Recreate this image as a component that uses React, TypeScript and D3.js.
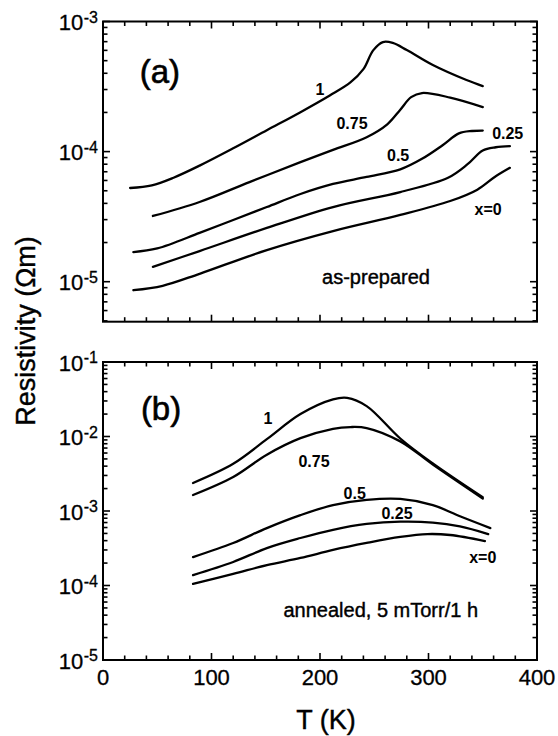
import React from 'react';
import * as d3 from 'd3';

const W = 558;
const H = 736;
const FONT = '"Liberation Sans", Arial, Helvetica, sans-serif';

// ---------- Panel (a): as-prepared ----------
const aT_1 = [25, 45, 65, 89, 120, 151, 182, 209, 228, 240, 249, 258, 267, 280, 304, 335, 350];
const aR_1 = [5.25e-5, 5.5e-5, 6.3e-5, 7.8e-5, 1.06e-4, 1.46e-4, 2.01e-4, 2.7e-4, 3.4e-4, 4.3e-4, 6.0e-4, 6.95e-4, 6.85e-4, 6.04e-4, 4.63e-4, 3.55e-4, 3.19e-4];
const aT_075 = [46, 89, 135, 182, 212, 243, 262, 274, 284, 294, 320, 350];
const aR_075 = [3.2e-5, 4.1e-5, 5.83e-5, 8.3e-5, 1.03e-4, 1.29e-4, 1.62e-4, 2.1e-4, 2.62e-4, 2.82e-4, 2.6e-4, 2.2e-4];
const aT_05 = [28, 50, 89, 120, 151, 182, 212, 243, 274, 294, 313, 328, 340, 350];
const aR_05 = [1.69e-5, 1.8e-5, 2.37e-5, 2.98e-5, 3.75e-5, 4.72e-5, 5.64e-5, 6.38e-5, 7.3e-5, 8.8e-5, 1.12e-4, 1.38e-4, 1.44e-4, 1.45e-4];
const aT_025 = [46, 89, 151, 212, 274, 318, 336, 350, 362, 375];
const aR_025 = [1.3e-5, 1.72e-5, 2.59e-5, 3.75e-5, 4.89e-5, 6.3e-5, 8.0e-5, 1.02e-4, 1.08e-4, 1.1e-4];
const aT_0 = [28, 55, 89, 151, 212, 274, 320, 345, 361, 375];
const aR_0 = [8.6e-6, 9.3e-6, 1.15e-5, 1.75e-5, 2.45e-5, 3.26e-5, 4.17e-5, 5.1e-5, 6.38e-5, 7.5e-5];

// ---------- Panel (b): annealed ----------
const bT_1 = [83, 120, 151, 182, 212, 225, 243, 274, 304, 350];
const bR_1 = [2.38e-3, 4.3e-3, 9.2e-3, 2.0e-2, 3.15e-2, 3.3e-2, 2.56e-2, 9.4e-3, 4.35e-3, 1.53e-3];
const bT_075 = [83, 120, 151, 182, 212, 228, 243, 274, 304, 350];
const bR_075 = [1.64e-3, 2.86e-3, 5.7e-3, 9.5e-3, 1.27e-2, 1.34e-2, 1.3e-2, 8.6e-3, 4.2e-3, 1.47e-3];
const bT_05 = [83, 120, 151, 182, 212, 243, 274, 304, 329, 357];
const bR_05 = [2.41e-4, 3.72e-4, 5.9e-4, 8.8e-4, 1.2e-3, 1.41e-3, 1.45e-3, 1.2e-3, 8.5e-4, 5.9e-4];
const bT_025 = [83, 120, 151, 182, 212, 243, 274, 304, 329, 355];
const bR_025 = [1.38e-4, 2.07e-4, 3.18e-4, 4.34e-4, 5.6e-4, 6.7e-4, 7.2e-4, 7.0e-4, 6.2e-4, 4.9e-4];
const bT_0 = [83, 120, 151, 182, 212, 243, 274, 299, 320, 352];
const bR_0 = [1.05e-4, 1.43e-4, 1.88e-4, 2.34e-4, 3.0e-4, 3.72e-4, 4.48e-4, 4.9e-4, 4.76e-4, 3.95e-4];

const seriesA = [
  { T: aT_1, R: aR_1 },
  { T: aT_075, R: aR_075 },
  { T: aT_05, R: aR_05 },
  { T: aT_025, R: aR_025 },
  { T: aT_0, R: aR_0 },
];
const seriesB = [
  { T: bT_1, R: bR_1 },
  { T: bT_075, R: bR_075 },
  { T: bT_05, R: bR_05 },
  { T: bT_025, R: bR_025 },
  { T: bT_0, R: bR_0 },
];

// curve labels: text, T, rho (baseline)
const labelsA = [
  { text: '1', T: 200, R: 2.72e-4 },
  { text: '0.75', T: 229.5, R: 1.49e-4 },
  { text: '0.5', T: 272, R: 8.48e-5 },
  { text: '0.25', T: 373, R: 1.25e-4 },
  { text: 'x=0', T: 355, R: 3.26e-5 },
];
const labelsB = [
  { text: '1', T: 152, R: 1.47e-2 },
  { text: '0.75', T: 194.5, R: 3.9e-3 },
  { text: '0.5', T: 232, R: 1.45e-3 },
  { text: '0.25', T: 271, R: 7.8e-4 },
  { text: 'x=0', T: 350, R: 2.0e-4 },
];
const noteA = { text: 'as-prepared', T: 251.6, R: 9.6e-6 };
const noteB = { text: 'annealed, 5 mTorr/1 h', T: 256, R: 3.78e-5 };
const panelA = { text: '(a)', T: 52.5, R: 3.36e-4 };
const panelB = { text: '(b)', T: 53.5, R: 1.66e-2 };

const xTickLabels = [0, 100, 200, 300, 400];
const yExpA = [-3, -4, -5];
const yExpB = [-1, -2, -3, -4, -5];

// ---------- geometry ----------
const L = 103, R = 537;
const aTop = 21.5, aBot = 321.7;
const bTop = 362, bBot = 660;

const x = d3.scaleLinear().domain([0, 400]).range([L, R]);
const yA = d3.scaleLog().domain([1e-5, 1e-3]).range([281.7, 21.5]);
const yB = d3.scaleLog().domain([1e-5, 1e-1]).range([660, 362]);

function logTicks(minExp: number, maxExp: number) {
  const out: { v: number; major: boolean }[] = [];
  for (let e = minExp; e <= maxExp; e++) {
    for (let m = 1; m <= 9; m++) out.push({ v: m * Math.pow(10, e), major: m === 1 });
  }
  return out;
}

function Panel({ y, top, bot, series, labels, note, panel, exps, showX }: any) {
  const line = d3
    .line<[number, number]>()
    .x((d) => x(d[0]))
    .y((d) => y(d[1]))
    .curve(d3.curveCatmullRom.alpha(0.5));
  const yt = logTicks(-6, 0).filter((t) => {
    const p = y(t.v);
    return (p > top + 1.5 && p < bot - 1.5) || Math.abs(p - top) < 1 || Math.abs(p - bot) < 1;
  });
  const xt = d3.range(0, 401, 20);
  return (
    <g>
      {yt.map((t, i) => {
        const p = y(t.v);
        const len = t.major ? 7 : 4.5;
        return (
          <g key={'y' + i}>
            <line x1={L} x2={L + len} y1={p} y2={p} stroke="#000" strokeWidth={1.6} />
            <line x1={R} x2={R - len} y1={p} y2={p} stroke="#000" strokeWidth={1.6} />
          </g>
        );
      })}
      {xt.map((t, i) => {
        const p = x(t);
        const len = t % 100 === 0 ? 7 : 4.5;
        return (
          <g key={'x' + i}>
            <line x1={p} x2={p} y1={bot} y2={bot - len} stroke="#000" strokeWidth={1.6} />
            <line x1={p} x2={p} y1={top} y2={top + len} stroke="#000" strokeWidth={1.6} />
          </g>
        );
      })}
      <rect x={L} y={top} width={R - L} height={bot - top} fill="none" stroke="#000" strokeWidth={2} />
      {series.map((s: any, i: number) => (
        <path
          key={'s' + i}
          d={line(s.T.map((t: number, j: number) => [t, s.R[j]]) as [number, number][]) || ''}
          fill="none"
          stroke="#000"
          strokeWidth={2.3}
          strokeLinejoin="round"
          strokeLinecap="round"
        />
      ))}
      {labels.map((l: any, i: number) => (
        <text
          key={'l' + i}
          x={x(l.T)}
          y={y(l.R)}
          textAnchor="middle"
          fontSize={16}
          fontWeight="bold"
          fontFamily={FONT}
        >
          {l.text}
        </text>
      ))}
      <text x={x(note.T)} y={y(note.R)} textAnchor="middle" fontSize={20} fontFamily={FONT} stroke="#000" strokeWidth={0.4}>
        {note.text}
      </text>
      <text x={x(panel.T)} y={y(panel.R)} textAnchor="middle" fontSize={33} fontFamily={FONT} stroke="#000" strokeWidth={0.6}>
        {panel.text}
      </text>
      {exps.map((e: number) => (
        <text key={'e' + e} x={98} y={y(Math.pow(10, e)) + 8.5} textAnchor="end" fontFamily={FONT} fontSize={22} stroke="#000" strokeWidth={0.3}>
          10
          <tspan fontSize={16} dy={-7.5} dx={0.5}>
            {'-' + Math.abs(e)}
          </tspan>
        </text>
      ))}
      {showX &&
        xTickLabels.map((t) => (
          <text key={'xl' + t} x={x(t)} y={685} textAnchor="middle" fontFamily={FONT} fontSize={22} stroke="#000" strokeWidth={0.3}>
            {t}
          </text>
        ))}
    </g>
  );
}

export default function App() {
  return (
    <svg
      width={W}
      height={H}
      viewBox={`0 0 ${W} ${H}`}
      style={{ position: 'absolute', left: 0, top: 0, background: '#fff' }}
    >
      <rect width={W} height={H} fill="#fff" />
      <Panel y={yA} top={aTop} bot={aBot} series={seriesA} labels={labelsA} note={noteA} panel={panelA} exps={yExpA} showX={false} />
      <Panel y={yB} top={bTop} bot={bBot} series={seriesB} labels={labelsB} note={noteB} panel={panelB} exps={yExpB} showX={true} />
      <text
        transform="translate(35,331) rotate(-90)"
        textAnchor="middle"
        fontFamily={FONT}
        fontSize={27}
        stroke="#000"
        strokeWidth={0.4}
      >
        Resistivity (Ωm)
      </text>
      <text x={326} y={729} textAnchor="middle" fontFamily={FONT} fontSize={27} stroke="#000" strokeWidth={0.4}>
        T (K)
      </text>
    </svg>
  );
}
